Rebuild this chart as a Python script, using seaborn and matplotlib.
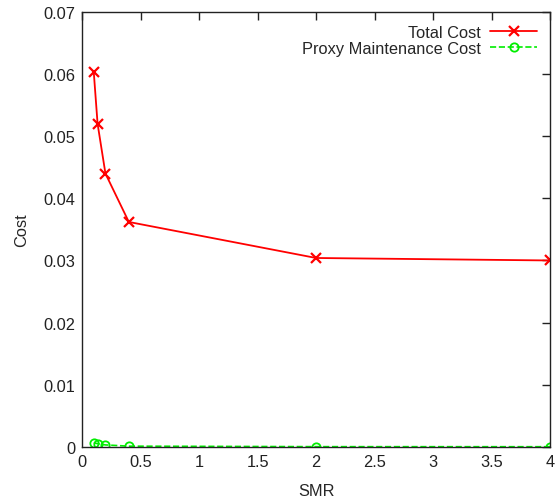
import matplotlib
matplotlib.use("Agg")
import matplotlib.pyplot as plt
import seaborn as sns

smr = [0.1, 0.133, 0.2, 0.4, 2, 4]
total_cost = [0.0604, 0.0520, 0.0440, 0.0362, 0.0304, 0.0300]
proxy_cost = [0.00065, 0.00050, 0.00030, 0.00010, 0.00002, 0.00001]

sns.set_style("white", {"xtick.direction": "in", "ytick.direction": "in"})
plt.rcParams["font.family"] = ["Liberation Sans", "DejaVu Sans"]
fs = 11.8

fig = plt.figure(figsize=(5.58, 5.02), dpi=100)
ax = fig.add_axes([0.147, 0.108, 0.839, 0.866])

sns.lineplot(x=smr, y=total_cost, ax=ax, color="#ff0000", lw=1.3,
             marker="x", markersize=6.5, markeredgewidth=1.6,
             markeredgecolor="#ff0000", label="Total Cost")
sns.lineplot(x=smr, y=proxy_cost, ax=ax, color="#00ee00", lw=1.2,
             linestyle="--", marker="o", markersize=6,
             markerfacecolor="none", markeredgecolor="#00ee00",
             markeredgewidth=1.3, label="Proxy Maintenance Cost")

ax.set_xlim(0, 4)
ax.set_ylim(0, 0.07)
ax.set_xticks([0, 0.5, 1, 1.5, 2, 2.5, 3, 3.5, 4])
ax.set_xticklabels(["0", "0.5", "1", "1.5", "2", "2.5", "3", "3.5", "4"])
ax.set_yticks([0, 0.01, 0.02, 0.03, 0.04, 0.05, 0.06, 0.07])
ax.set_yticklabels(["0", "0.01", "0.02", "0.03", "0.04", "0.05", "0.06", "0.07"])
ax.tick_params(axis="both", which="both", direction="in", length=6, width=1,
               top=True, right=True, labelsize=fs, pad=5, colors="#222222")
for s in ax.spines.values():
    s.set_color("#222222")
    s.set_linewidth(1.0)

ax.set_xlabel("SMR", fontsize=fs, labelpad=10)
ax.set_ylabel("Cost", fontsize=fs, labelpad=10)

ax.legend(loc="upper right", frameon=False, markerfirst=False,
          handlelength=2.85, fontsize=fs, borderaxespad=0.4,
          borderpad=0.4, labelspacing=0.05, handletextpad=0.6)

fig.savefig("out.png", dpi=100)
